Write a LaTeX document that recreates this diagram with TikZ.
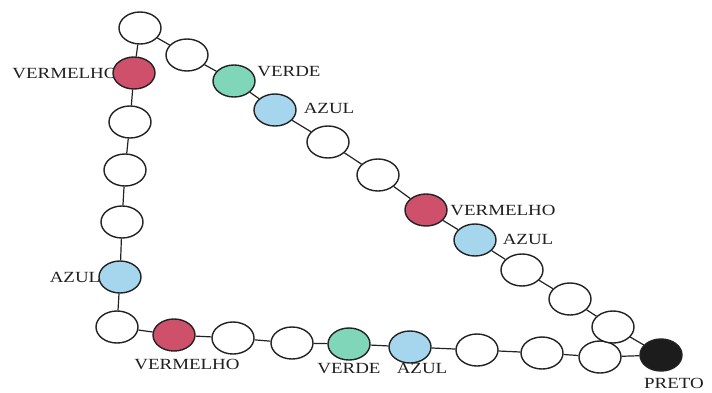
\documentclass[tikz,border=0pt]{standalone}
\usepackage{fontspec}
\setmainfont{Liberation Serif}
\usetikzlibrary{shapes.geometric}
\definecolor{cred}{HTML}{CF506A}
\definecolor{cgreen}{HTML}{80D6B8}
\definecolor{cblue}{HTML}{A6D6EE}
\definecolor{cblack}{HTML}{1C1C1C}
\definecolor{cline}{HTML}{222222}
\newcommand{\lbltxt}[1]{\scalebox{1.22}[1]{#1}}
\tikzset{
  bead/.style={ellipse, draw=cline, line width=1.4pt, minimum width=42pt, minimum height=32pt, inner sep=0pt, fill=white},
  rbead/.style={bead, fill=cred},
  gbead/.style={bead, fill=cgreen},
  bbead/.style={bead, fill=cblue},
  kbead/.style={bead, fill=cblack},
  lab/.style={font=\fontsize{15.5}{18}\selectfont, inner sep=0pt, text=black!88},
  link/.style={draw=cline, line width=1.2pt}
}
\begin{document}
\begin{tikzpicture}[x=1pt,y=-1pt]
\useasboundingbox (0,0) rectangle (712,392);
% labels
\node[lab] (l1) at (65,73) {\lbltxt{VERMELHO}};
\node[lab] (l2) at (289,72) {\lbltxt{VERDE}};
\node[lab] (l3) at (329,108) {\lbltxt{AZUL}};
\node[lab] (l4) at (75,277) {\lbltxt{AZUL}};
\node[lab] (l5) at (187,364) {\lbltxt{VERMELHO}};
\node[lab] (l6) at (349,369) {\lbltxt{VERDE}};
\node[lab] (l7) at (422,368) {\lbltxt{AZUL}};
\node[lab] (l8) at (503,210) {\lbltxt{VERMELHO}};
\node[lab] (l9) at (528,239) {\lbltxt{AZUL}};
\node[lab] (l10) at (674,383) {\lbltxt{PRETO}};
% beads
\node[bead]  (c1)  at (140,28) {};
\node[rbead] (c2)  at (134,73) {};
\node[bead]  (c3)  at (130,122) {};
\node[bead]  (c4)  at (125,170) {};
\node[bead]  (c5)  at (122,222) {};
\node[bbead] (c6)  at (120,277) {};
\node[bead]  (c7)  at (117,327) {};
\node[rbead] (c8)  at (174,335) {};
\node[bead]  (c9)  at (233,338) {};
\node[bead]  (c10) at (292,343) {};
\node[gbead] (c11) at (349,344) {};
\node[bbead] (c12) at (410,347) {};
\node[bead]  (c13) at (477,350) {};
\node[bead]  (c14) at (542,353) {};
\node[bead]  (c15) at (600,357) {};
\node[bead]  (c26) at (613,327) {};
\node[kbead] (c16) at (661,355) {};
\node[bead]  (c17) at (187,55) {};
\node[gbead] (c18) at (234,81) {};
\node[bbead] (c19) at (275,110) {};
\node[bead]  (c20) at (328,142) {};
\node[bead]  (c21) at (378,175) {};
\node[rbead] (c22) at (426,210) {};
\node[bbead] (c23) at (475,240) {};
\node[bead]  (c24) at (522,270) {};
\node[bead]  (c25) at (570,299) {};
% links
\draw[link] (c1)--(c2) (c2)--(c3) (c3)--(c4) (c4)--(c5) (c5)--(c6) (c6)--(c7)
  (c7)--(c8) (c8)--(c9) (c9)--(c10) (c10)--(c11) (c11)--(c12) (c12)--(c13)
  (c13)--(c14) (c14)--(c15) (c15)--(c16);
\draw[link] (c1)--(c17) (c17)--(c18) (c18)--(c19) (c19)--(c20) (c20)--(c21)
  (c21)--(c22) (c22)--(c23) (c23)--(c24) (c24)--(c25) (c25)--(c26) (c26)--(c16);
\end{tikzpicture}
\end{document}
